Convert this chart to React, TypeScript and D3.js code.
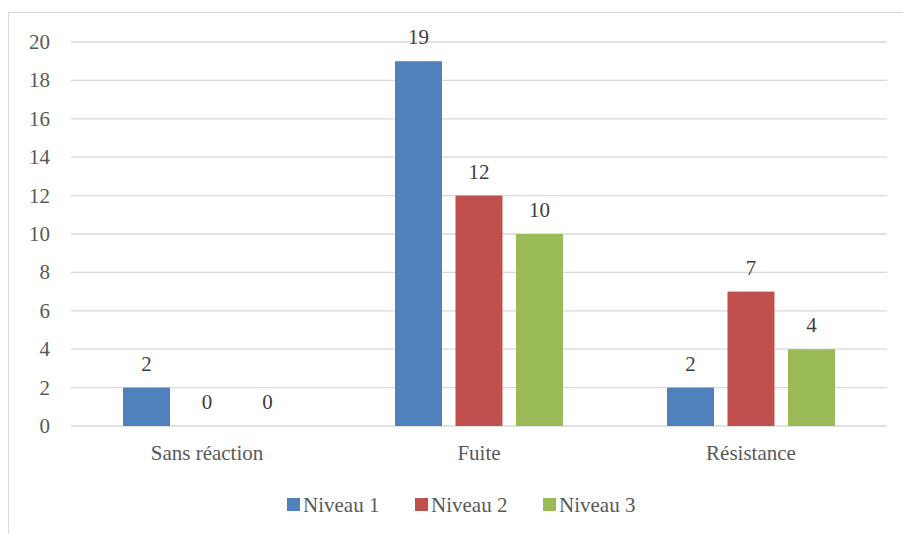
import * as d3 from "d3";

const categories = ["Sans réaction", "Fuite", "Résistance"];
const seriesNames = ["Niveau 1", "Niveau 2", "Niveau 3"];
const niveau1 = [2, 19, 2];
const niveau2 = [0, 12, 7];
const niveau3 = [0, 10, 4];
const yTicks = [0, 2, 4, 6, 8, 10, 12, 14, 16, 18, 20];

const COLORS = ["#4F81BD", "#C0504D", "#9BBB59"];
const W = 903;
const H = 534;
const PLOT = { left: 71, right: 887, top: 42, bottom: 426 };
const FONT = "'Liberation Serif', 'DejaVu Serif', serif";
const TEXT = "#595959";
const FS = 21;

export default function App() {
  const series = [niveau1, niveau2, niveau3];

  const x = d3.scaleBand().domain(categories).range([PLOT.left, PLOT.right]).padding(0);
  const inner = d3
    .scaleBand()
    .domain(seriesNames)
    .range([0, x.bandwidth()])
    .paddingInner(0.223)
    .paddingOuter(0.86);
  const y = d3.scaleLinear().domain([0, 20]).range([PLOT.bottom, PLOT.top]);

  return (
    <svg
      width={W}
      height={H}
      style={{ position: "absolute", left: 0, top: 0, background: "#fff", fontFamily: FONT }}
    >
      {/* chart frame */}
      <rect x={8.5} y={12.5} width={W + 10} height={H + 10} fill="none" stroke="#D9D9D9" />

      {/* grid */}
      {yTicks.map((t) => (
        <g key={t}>
          <line
            x1={PLOT.left}
            x2={PLOT.right}
            y1={y(t)}
            y2={y(t)}
            stroke="#D9D9D9"
            strokeWidth={1.3}
          />
          <text
            x={50}
            y={y(t)}
            textAnchor="end"
            dominantBaseline="central"
            fontSize={FS}
            fill={TEXT}
          >
            {t}
          </text>
        </g>
      ))}

      {/* bars */}
      {categories.map((c, ci) => (
        <g key={c} transform={`translate(${x(c)},0)`}>
          {series.map((s, si) => {
            const bx = inner(seriesNames[si]) ?? 0;
            const v = s[ci];
            return (
              <g key={si}>
                <rect
                  x={bx}
                  y={y(v)}
                  width={inner.bandwidth()}
                  height={PLOT.bottom - y(v)}
                  fill={COLORS[si]}
                />
                <text
                  x={bx + inner.bandwidth() / 2}
                  y={y(v) - 17}
                  textAnchor="middle"
                  fontSize={FS}
                  fill="#404040"
                >
                  {v}
                </text>
              </g>
            );
          })}
          <text
            x={x.bandwidth() / 2}
            y={453}
            textAnchor="middle"
            dominantBaseline="central"
            fontSize={FS}
            fill={TEXT}
          >
            {c}
          </text>
        </g>
      ))}

      {/* legend */}
      {seriesNames.map((n, i) => {
        const lx = 287 + i * 128;
        return (
          <g key={n}>
            <rect x={lx} y={498} width={13} height={13} fill={COLORS[i]} />
            <text x={lx + 16} y={505} dominantBaseline="central" fontSize={FS} fill={TEXT}>
              {n}
            </text>
          </g>
        );
      })}
    </svg>
  );
}
